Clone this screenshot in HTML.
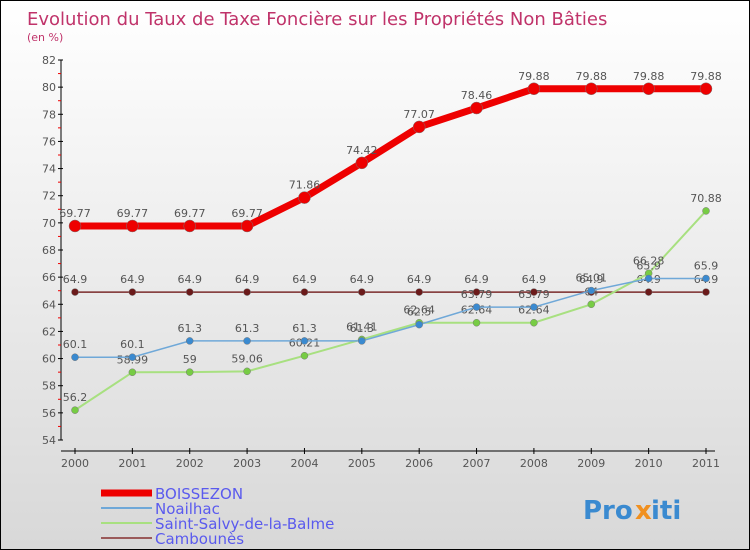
<!DOCTYPE html>
<html><head><meta charset="utf-8"><style>
body{margin:0}
#c{width:750px;height:550px;position:relative;box-sizing:border-box;border:1px solid #000;background:linear-gradient(#fff,#d8d8d8);font-family:"DejaVu Sans","Liberation Sans",sans-serif;overflow:hidden}
</style></head><body>
<div id="c">
<svg id="s" width="748" height="548"></svg>
</div>
<script>
const years=["2000","2001","2002","2003","2004","2005","2006","2007","2008","2009","2010","2011"];
const boissezon=[69.77,69.77,69.77,69.77,71.86,74.42,77.07,78.46,79.88,79.88,79.88,79.88];
const noailhac=[60.1,60.1,61.3,61.3,61.3,61.3,62.5,63.79,63.79,65.01,65.9,65.9];
const salvy=[56.2,58.99,59,59.06,60.21,61.41,62.64,62.64,62.64,64,66.28,70.88];
const cambounes=[64.9,64.9,64.9,64.9,64.9,64.9,64.9,64.9,64.9,64.9,64.9,64.9];
const yTicks=[54,56,58,60,62,64,66,68,70,72,74,76,78,80,82];
const NS="http://www.w3.org/2000/svg";
const s=document.getElementById('s');
const X=i=>74+i*(631/11);
const Y=v=>59+(82-v)*(380/28);
function el(t,a,p){const e=document.createElementNS(NS,t);for(const k in a)e.setAttribute(k,a[k]);(p||s).appendChild(e);return e;}
function tx(x,y,str,a){const e=el('text',Object.assign({x:x,y:y},a));e.textContent=str;return e;}
let t=tx(26,24,"Evolution du Taux de Taxe Foncière sur les Propriétés Non Bâties",{fill:"#c0336a","font-size":"18"});

t=tx(26,40,"(en %)",{fill:"#c0336a","font-size":"11"});

let ax=el('line',{x1:60,y1:Y(82),x2:60,y2:Y(54),stroke:"#000"});

ax=el('line',{x1:60,y1:Y(54)+11,x2:714,y2:Y(54)+11,stroke:"#000"});

yTicks.forEach(v=>{el('line',{x1:57,y1:Y(v),x2:62,y2:Y(v),stroke:"#000"});
 if(v<82)el('line',{x1:57,y1:Y(v+1),x2:60,y2:Y(v+1),stroke:"#e00"});
 const l=tx(55,Y(v)+4,String(v),{"text-anchor":"end","font-size":"11",fill:"#555"});
 });
years.forEach((y,i)=>{el('line',{x1:X(i),y1:Y(54)+8,x2:X(i),y2:Y(54)+14,stroke:"#000"});
 const l=tx(X(i),Y(54)+27,y,{"text-anchor":"middle","font-size":"11",fill:"#555"});
 });
function series(arr,name,color,w,r,dot){
 const g=el('g',{});
 el('polyline',{points:arr.map((v,i)=>X(i)+','+Y(v)).join(' '),fill:"none",stroke:color,"stroke-width":w},g);
 arr.forEach((v,i)=>{const c=el('circle',{cx:X(i),cy:Y(v),r:r,fill:dot,stroke:"#777","stroke-width":0.5},g);
  
  const l=tx(X(i),Y(v)-9,String(v),{"text-anchor":"middle","font-size":"11",fill:"#555"},g);
  });
}
series(cambounes,'cambounes','#7a2a2a',1.5,3.5,'#6b1a1a');
series(salvy,'saint-salvy','#a8e080',2,3.5,'#77cc44');
series(noailhac,'noailhac','#6fa8d8',1.5,3.5,'#3a8ad0');
series(boissezon,'boissezon','#e00',7,6,'#e00');
const leg=[["BOISSEZON","#e00",7],["Noailhac","#6fa8d8",2],["Saint-Salvy-de-la-Balme","#a8e080",2],["Cambounès","#9a5a5a",2]];
leg.forEach((d,i)=>{const g=el('g',{});
 const y=492+i*15;el('line',{x1:100,y1:y,x2:151,y2:y,stroke:d[1],"stroke-width":d[2]},g);
 tx(154,y+6,d[0],{"font-size":"15",fill:"#5a5aee"},g);});
const lg=el('g',{});
tx(582,518,"Pro",{"font-size":"26","font-weight":"bold",fill:"#3a8ad0"},lg);
tx(634,518,"x",{"font-size":"26","font-weight":"bold",fill:"#f09020"},lg);
tx(650,518,"iti",{"font-size":"26","font-weight":"bold",fill:"#3a8ad0"},lg);
</script>
</body></html>
